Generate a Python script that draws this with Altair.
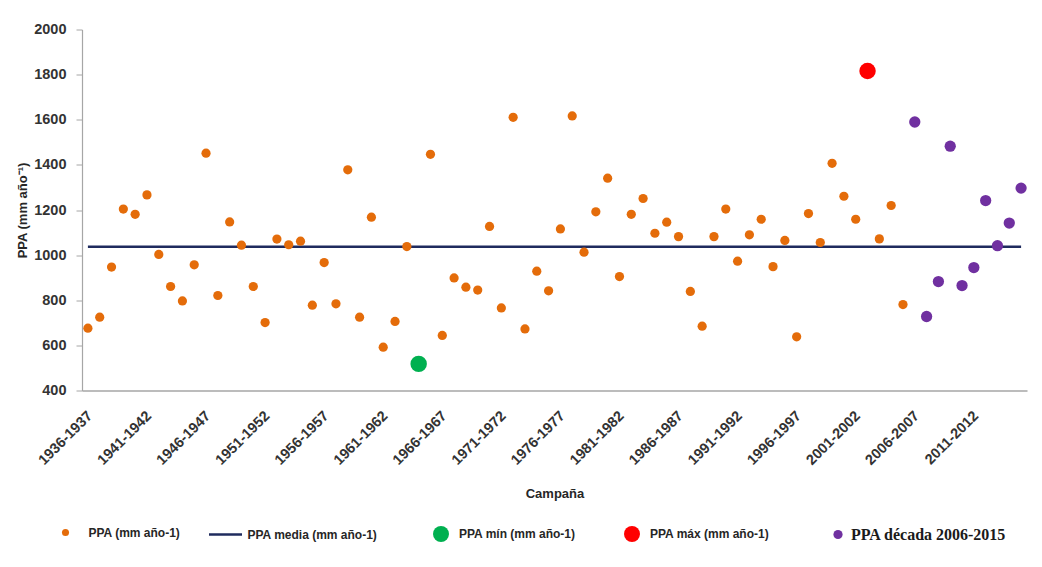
import altair as alt
import pandas as pd

# ---------------- data ----------------
campanas = [f"{y}-{y + 1}" for y in range(1936, 2016)]

ppa = [676, 725, 947, 1204, 1181, 1267, 1003, 861, 797, 957,
       1452, 821, 1147, 1044, 861, 701, 1071, 1046, 1062, 778,
       967, 784, 1378, 725, 1168, 592, 706, 1038, 518, 1447,
       644, 899, 858, 845, 1127, 766, 1611, 673, 929, 842,
       1116, 1617, 1013, 1192, 1341, 905, 1181, 1251, 1097, 1146,
       1082, 839, 685, 1082, 1204, 973, 1090, 1159, 949, 1065,
       638, 1184, 1056, 1407, 1261, 1159, 1816, 1072, 1220, 781,
       1590, 728, 883, 1483, 865, 945, 1242, 1042, 1142, 1297]

ppa_media = 1037
campana_min = "1964-1965"
campana_max = "2002-2003"
decada = ["2006-2007", "2007-2008", "2008-2009", "2009-2010", "2010-2011",
          "2011-2012", "2012-2013", "2013-2014", "2014-2015", "2015-2016"]

tick_labels = ["1936-1937", "1941-1942", "1946-1947", "1951-1952", "1956-1957",
               "1961-1962", "1966-1967", "1971-1972", "1976-1977", "1981-1982",
               "1986-1987", "1991-1992", "1996-1997", "2001-2002", "2006-2007",
               "2011-2012"]
y_ticks = [400, 600, 800, 1000, 1200, 1400, 1600, 1800, 2000]

S_PPA = "PPA (mm año-1)"
S_MEDIA = "PPA media (mm año-1)"
S_MIN = "PPA mín (mm año-1)"
S_MAX = "PPA máx (mm año-1)"
S_DEC = "PPA década 2006-2015"

C_PPA = "#E46C0A"
C_MEDIA = "#1F2B5E"
C_MIN = "#00B050"
C_MAX = "#FF0000"
C_DEC = "#7030A0"


def serie_de(c):
    if c == campana_min:
        return S_MIN
    if c == campana_max:
        return S_MAX
    if c in decada:
        return S_DEC
    return S_PPA


df = pd.DataFrame({"campana": campanas, "ppa": ppa})
df["serie"] = [serie_de(c) for c in campanas]
df_media = pd.DataFrame({"campana": [campanas[0]], "campana_fin": [campanas[-1]],
                         "ppa": [ppa_media], "serie": [S_MEDIA]})

# ---------------- encodings ----------------
x_enc = alt.X(
    "campana:N",
    sort=campanas,
    scale=alt.Scale(type="point", domain=campanas, padding=0.5),
    axis=alt.Axis(values=tick_labels, labelAngle=-45, ticks=False,
                  labelPadding=18, labelOffset=-3, titlePadding=20,
                  titleFontSize=13, domainWidth=1.5),
    title="Campaña",
)
y_enc = alt.Y(
    "ppa:Q",
    scale=alt.Scale(domain=[400, 2000], nice=False, zero=False),
    axis=alt.Axis(values=y_ticks, format="d", tickSize=6, labelPadding=10,
                  titlePadding=4, titleFontSize=13, domainWidth=1.2),
    title="PPA (mm año⁻¹)",
)


def legend(x, y, size, offset, serif=False, stroke_w=None):
    kw = dict(orient="none", legendX=x, legendY=y, title=None, padding=0,
              symbolSize=size, labelOffset=offset, labelFontWeight="bold")
    if serif:
        kw.update(labelFont="Liberation Serif", labelFontSize=16, labelColor="#1a1a1a")
    else:
        kw.update(labelFont="Liberation Sans", labelFontSize=12, labelColor="#262626")
    if stroke_w is not None:
        kw.update(symbolStrokeWidth=stroke_w)
    return alt.Legend(**kw)


def color_enc(serie, color, leg):
    return alt.Color("serie:N", scale=alt.Scale(domain=[serie], range=[color]), legend=leg)


media = alt.Chart(df_media).mark_rule(strokeWidth=2.5).encode(
    x=x_enc, x2="campana_fin:N", y=y_enc,
    color=color_enc(S_MEDIA, C_MEDIA, legend(125.5, 487, 1089, 4, stroke_w=2.5)),
)

pts_ppa = alt.Chart(df[df["serie"] == S_PPA]).mark_circle(opacity=1, size=85).encode(
    x=x_enc, y=y_enc,
    color=color_enc(S_PPA, C_PPA, legend(-22.5, 497, 50, 17)),
)

pts_min = alt.Chart(df[df["serie"] == S_MIN]).mark_circle(opacity=1, size=270).encode(
    x=x_enc, y=y_enc,
    color=color_enc(S_MIN, C_MIN, legend(350, 495.5, 255, 9)),
)

pts_max = alt.Chart(df[df["serie"] == S_MAX]).mark_circle(opacity=1, size=270).encode(
    x=x_enc, y=y_enc,
    color=color_enc(S_MAX, C_MAX, legend(541, 495.5, 255, 9)),
)

pts_dec = alt.Chart(df[df["serie"] == S_DEC]).mark_circle(opacity=1, size=127).encode(
    x=x_enc, y=y_enc,
    color=color_enc(S_DEC, C_DEC, legend(748, 497, 85, 5, serif=True)),
)

chart = (
    alt.layer(media, pts_ppa, pts_min, pts_max, pts_dec)
    .resolve_scale(color="independent")
    .properties(width=945, height=361, autosize=alt.AutoSizeParams(type="none"),
                padding={"left": 74, "top": 21.5, "right": 7, "bottom": 168},
                background="white")
    .configure_view(stroke=None)
    .configure_axis(grid=False, domainColor="#A6A6A6", tickColor="#A6A6A6",
                    labelFont="Liberation Sans", labelFontWeight="bold",
                    labelFontSize=14.5, labelColor="#333333",
                    titleFont="Liberation Sans", titleFontWeight="bold",
                    titleColor="#262626")
)

chart.save("out.html", embed_options={"renderer": "svg", "actions": False})
